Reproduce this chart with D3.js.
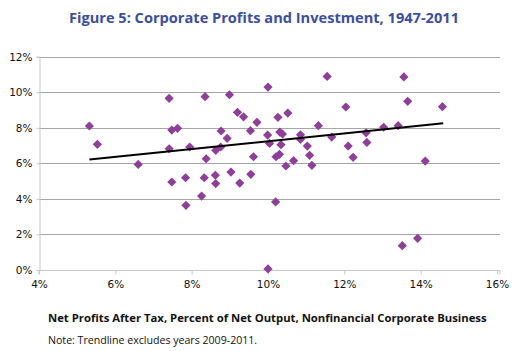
<!DOCTYPE html>
<html>
<head>
<meta charset="utf-8">
<script src="https://cdn.jsdelivr.net/npm/d3@7"></script>
<style>
  html, body { margin: 0; padding: 0; background: #fff; }
  svg { display: block; }
</style>
</head>
<body>
<svg id="chart" width="528" height="351"></svg>
<script>
// ---- Data ----
const profits = [5.32,5.53,6.60,7.41,7.48,7.63,7.41,7.48,7.84,7.85,7.95,8.35,8.26,8.33,8.38,8.62,8.63,8.63,8.76,8.77,8.93,8.99,9.03,9.20,9.36,9.26,9.71,9.54,9.62,9.55,10.00,9.99,10.04,10.00,10.20,10.26,10.52,10.31,10.38,10.34,10.21,10.30,10.47,10.67,10.85,10.85,11.03,11.09,11.15,11.32,11.55,11.67,12.04,12.10,12.23,12.57,12.59,13.03,13.41,13.56,13.66,14.57,14.12,13.92,13.52];
const investment = [8.10,7.07,5.94,9.66,7.87,7.97,6.82,4.95,5.19,3.64,6.92,9.75,4.16,5.19,6.26,5.33,4.86,6.73,6.92,7.82,7.41,9.86,5.51,8.87,8.62,4.89,8.31,7.84,6.37,5.38,10.29,7.59,7.12,0.06,3.83,8.59,8.83,7.76,7.65,7.05,6.37,6.51,5.85,6.15,7.61,7.35,6.97,6.45,5.89,8.12,10.89,7.48,9.17,6.97,6.34,7.72,7.18,8.03,8.12,10.86,9.49,9.19,6.13,1.78,1.37];
const trendX = [5.32, 14.59];
const trendY = [6.22, 8.25];
const xTicks = [4, 6, 8, 10, 12, 14, 16];
const yTicks = [0, 2, 4, 6, 8, 10, 12];
const titleText = "Figure 5: Corporate Profits and Investment, 1947-2011";
const xLabel = "Net Profits After Tax, Percent of Net Output, Nonfinancial Corporate Business";
const noteText = "Note: Trendline excludes years 2009-2011.";

(function () {
// ---- Layout ----
const svg = d3.select("#chart");
const pLeft = 39, pRight = 500, pTop = 56.7, pBottom = 270;
const x = d3.scaleLinear().domain([4, 16]).range([pLeft, 497]);
const y = d3.scaleLinear().domain([0, 12]).range([pBottom, pTop]);

// Title
svg.append("text")
  .attr("x", 264).attr("y", 22.5)
  .attr("text-anchor", "middle")
  .attr("font-family", "'Open Sans', sans-serif")
  .attr("font-weight", "bold")
  .attr("font-size", "14.6px")
  .attr("fill", "#3b4fa0")
  .text(titleText);

// Gridlines
svg.append("g").selectAll("line")
  .data(yTicks.filter(d => d > 0))
  .join("line")
  .attr("x1", pLeft).attr("x2", pRight)
  .attr("y1", d => Math.round(y(d)) + 0.5).attr("y2", d => Math.round(y(d)) + 0.5)
  .attr("stroke", "#a6a6a6").attr("stroke-width", 1);

// Y axis
const yAxis = d3.axisLeft(y).tickValues(yTicks).tickFormat(d => d + "%").tickSize(3).tickPadding(4);
const gy = svg.append("g").attr("transform", `translate(${pLeft + 0.5},0)`).call(yAxis);
gy.select(".domain").attr("stroke", "#c8c8c8");
gy.selectAll(".tick line").attr("stroke", "#c8c8c8");
gy.selectAll(".tick text")
  .attr("font-family", "'DejaVu Sans', Verdana, sans-serif")
  .attr("font-size", "10.5px").attr("fill", "#111");

// X axis
const xAxis = d3.axisBottom(x).tickValues(xTicks).tickFormat(d => d + "%").tickSize(4).tickPadding(6);
const gx = svg.append("g").attr("transform", `translate(0,${Math.round(pBottom) + 0.5})`).call(xAxis);
gx.select(".domain").attr("stroke", "#c8c8c8").attr("d", `M${pLeft},4V0H${pRight}V4`);
gx.selectAll(".tick line").attr("stroke", "#c8c8c8");
gx.selectAll(".tick text")
  .attr("font-family", "'DejaVu Sans', Verdana, sans-serif")
  .attr("font-size", "10.5px").attr("fill", "#111");

// Points (diamonds)
const pts = profits.map((p, i) => ({ x: p, y: investment[i] }));
const r = 4.6;
svg.append("g").selectAll("path")
  .data(pts)
  .join("path")
  .attr("d", d => {
    const cx = x(d.x), cy = y(d.y);
    return `M${cx},${cy - r}L${cx + r},${cy}L${cx},${cy + r}L${cx - r},${cy}Z`;
  })
  .attr("fill", "#8e3f98");

// Trendline
svg.append("line")
  .attr("x1", x(trendX[0])).attr("y1", y(trendY[0]))
  .attr("x2", x(trendX[1])).attr("y2", y(trendY[1]))
  .attr("stroke", "#000").attr("stroke-width", 2);

// X label
svg.append("text")
  .attr("x", 48).attr("y", 321.5)
  .attr("font-family", "'Open Sans', sans-serif")
  .attr("font-weight", "bold")
  .attr("font-size", "11.3px")
  .attr("fill", "#111")
  .text(xLabel);

// Note
svg.append("text")
  .attr("x", 48).attr("y", 344)
  .attr("font-family", "'Open Sans', sans-serif")
  .attr("font-size", "10.6px")
  .attr("fill", "#111")
  .text(noteText);
})();
</script>
</body>
</html>
